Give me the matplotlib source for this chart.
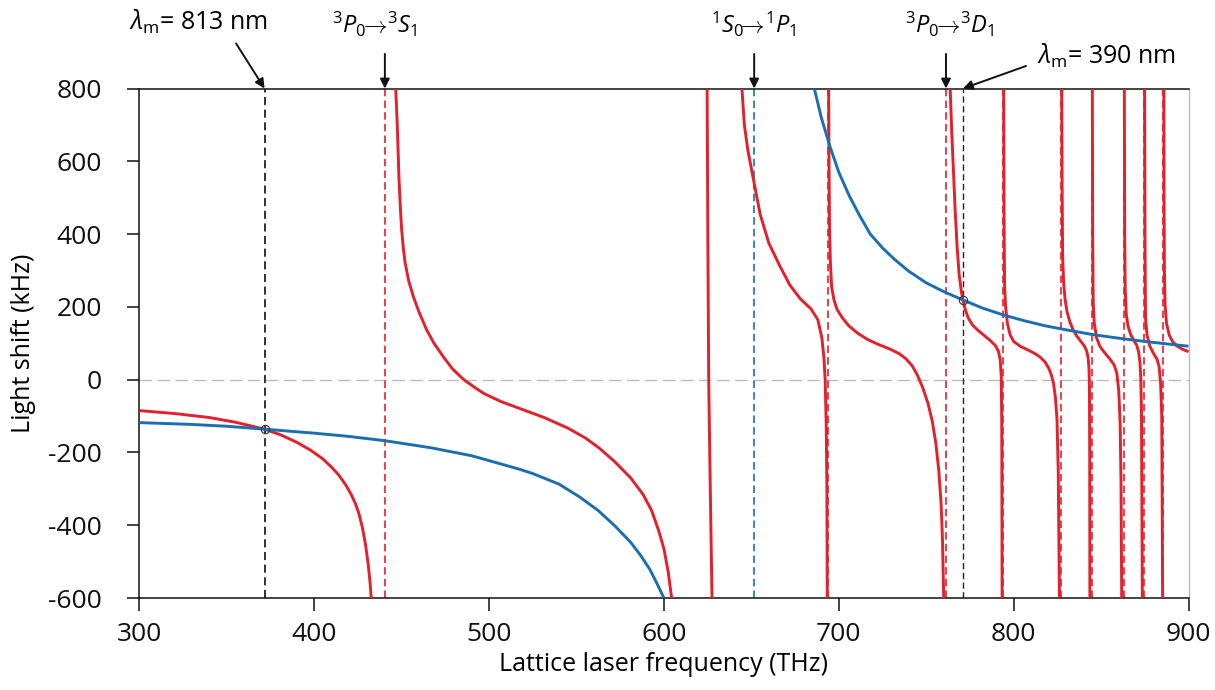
import numpy as np
import matplotlib
matplotlib.use("Agg")
import matplotlib.pyplot as plt

plt.rcParams['font.family'] = ['Open Sans', 'DejaVu Sans']
plt.rcParams['mathtext.fontset'] = 'custom'
plt.rcParams['mathtext.rm'] = 'Open Sans'
plt.rcParams['mathtext.it'] = 'Open Sans:italic'
plt.rcParams['axes.unicode_minus'] = False

# --- data (THz, kHz); None splits the branches ---
red_freq = [300, 320, 340, 355, 371.6, 381, 390, 398, 405, 410, 414, 418, 421, 423.5, 425.5, 427.5, 429.3, 430.8,
            431.9, 432.6, None,
            446.6, 447.5, 448.5, 449.3, 450, 451, 452, 454, 456.7, 460, 464.3, 468.5, 473.8, 479, 485.5, 492, 497,
            506.7, 518, 531.5, 545, 555, 563, 572, 581, 588, 593, 597, 600, 602.5, 604.4, None,
            624.7, 625.1, 625.6, 626.5, 627.5, None,
            644.6, 646, 648, 651.6, 655, 660, 666, 672, 678, 684, 688, 690.3, 691.5, 692.2, 692.8, 693.2, 693.4,
            None,
            694.2, 694.4, 694.7, 695.2, 695.9, 697.3, 699, 702, 705.7, 711, 716.6, 723, 729.8, 735, 738.5, 742,
            745, 748, 751, 753.5, 755.5, 757.2, 758.5, 759.3, 760, None,
            763.7, 764.6, 765.5, 766.5, 767.6, 768.8, 770, 771, 772.3, 774, 776.5, 779.5, 783, 786.5, 789.5,
            791.3, 792.3, 792.9, 793.2, 793.4, None,
            794.3, 794.5, 794.8, 795.4, 796.4, 798, 800, 804, 808, 812, 815.2, 818, 820, 821.5, 822.8, 823.9,
            824.8, 825.5, 826.2, None,
            827.5, 827.7, 828, 828.6, 829.4, 830.5, 832.2, 834, 836.1, 838.5, 840.5, 841.8, 842.6, 843.1, 843.35,
            843.5, 843.6, None,
            845.0, 845.2, 845.5, 846.1, 847.4, 849.3, 852, 855, 857.5, 859, 860.1, 860.9, 861.4, 861.8, None,
            863.3, 863.5, 863.8, 864.4, 865.4, 867, 869, 870.5, 871.5, 872.2, 872.7, 873.1, 873.6, None,
            874.9, 875.1, 875.4, 876.3, 877.8, 880, 882, 883.2, 884.1, 884.7, 885.2, None,
            885.9, 886.0, 886.2, 886.6, 887.4, 889, 891, 893.5, 896.8, 900]
red_shift = [-85, -93, -104, -117, -136, -152, -172, -194, -218, -241, -262, -289, -314, -340, -367, -405, -452, -505,
             -555, -600, None,
             800, 700, 549, 470, 412, 360, 321, 272, 228, 185, 137, 100, 63, 30, 0, -22, -38,
             -60, -80, -104, -133, -160, -188, -226, -270, -315, -360, -415, -465, -530, -600, None,
             800, 400, 0, -300, -600, None,
             800, 700, 630, 540, 455, 375, 315, 260, 222, 195, 165, 115, 60, 0, -120, -300, -600,
             None,
             800, 600, 420, 320, 255, 218, 193, 170, 148, 127, 110, 96, 83, 70, 57, 38,
             12, -22, -65, -115, -175, -250, -340, -440, -600, None,
             800, 680, 580, 470, 370, 290, 245, 219, 193, 170, 150, 136, 122, 108, 94,
             78, 55, 10, -120, -600, None,
             800, 450, 260, 200, 155, 123, 105, 91, 82, 72, 62, 48, 32, 14, -10, -50,
             -110, -250, -600, None,
             800, 550, 340, 265, 222, 187, 158, 137, 120, 105, 92, 78, 60, 30, -20,
             -200, -600, None,
             800, 400, 210, 155, 115, 92, 74, 57, 40, 18, -30, -120, -280, -600, None,
             800, 400, 250, 180, 147, 123, 106, 93, 75, 48, 5, -90, -600, None,
             800, 400, 170, 122, 93, 72, 56, 35, -15, -100, -600, None,
             800, 500, 300, 205, 155, 122, 104, 92, 83, 77]

blue_freq = [300, 330, 350, 371.6, 400, 420, 440.8, 466.6, 490, 510, 518, 525, 540, 552, 562.5, 572, 581, 587, 592,
             596, 600, None,
             686, 690, 695, 700, 706, 712, 718, 725, 732, 740, 750, 760, 771, 782, 794, 806, 818, 830, 845, 860,
             875, 890, 900]
blue_shift = [-118, -123, -128, -136, -147, -156, -168, -187, -209, -236, -247, -258, -287, -323, -360, -402, -447,
              -485, -522, -560, -600, None,
              800, 720, 640, 570, 505, 450, 400, 362, 330, 298, 266, 242, 219, 197, 178, 162, 148, 137, 124, 114,
              105, 97, 92]

red_lines = [440.4, 694.0, 761.3, 794.0, 826.8, 844.7, 862.9, 874.5, 885.6]
blue_lines = [651.6]
magic_lines = [371.6, 771.0]
magic_shift = [-136, 219]

RED = '#e3202c'
BLUE = '#1c6fae'

def to_arr(vals):
    return np.array([np.nan if v is None else v for v in vals], dtype=float)

fig = plt.figure(figsize=(12.15, 6.9), dpi=100)
ax = fig.add_axes([0.1147, 0.1333, 0.8635, 0.7384])

ax.axhline(0, color='#bdbdbd', lw=1.0, dashes=(9, 4), zorder=1)

for f in red_lines:
    ax.axvline(f, color=RED, lw=1.2, dashes=(4.5, 2.5), zorder=2)
for f in blue_lines:
    ax.axvline(f, color=BLUE, lw=1.2, dashes=(4.5, 2.5), zorder=2)
ax.axvline(magic_lines[0], color='#222222', lw=1.3, dashes=(4.5, 2.5), zorder=2)
ax.axvline(magic_lines[1], color='#222222', lw=1.0, dashes=(4.5, 2.5), zorder=2)

ax.plot(to_arr(red_freq), to_arr(red_shift), color=RED, lw=2.1, zorder=3,
        solid_joinstyle='round', solid_capstyle='butt')
ax.plot(to_arr(blue_freq), to_arr(blue_shift), color=BLUE, lw=2.1, zorder=4,
        solid_joinstyle='round', solid_capstyle='butt')

ax.plot(magic_lines, magic_shift, 'o', ms=6, mfc='none', mec='#333333', mew=0.8, zorder=5)

ax.set_xlim(300, 900)
ax.set_ylim(-600, 800)
ax.set_xticks(np.arange(300, 901, 100))
ax.set_yticks(np.arange(-600, 801, 200))
ax.tick_params(direction='out', length=9, width=1.1, labelsize=19, colors='#111111')
ax.tick_params(axis='x', pad=8)
ax.tick_params(axis='y', pad=18)

for s in ['left', 'bottom', 'top']:
    ax.spines[s].set_linewidth(1.1)
    ax.spines[s].set_color('#111111')
ax.spines['right'].set_color('#bbbbbb')
ax.spines['right'].set_linewidth(1.0)

ax.set_xlabel('Lattice laser frequency (THz)', fontsize=18, labelpad=4)
ax.set_ylabel('Light shift (kHz)', fontsize=18, labelpad=9)

# --- top annotations ---
arrow = dict(arrowstyle='-|>', color='#111111', lw=1.4, mutation_scale=14, shrinkA=0, shrinkB=0)

def label(text, x, y, size=17):
    ax.text(x, y, text, fontsize=size, ha='center', va='center', clip_on=False)

def pointer(x0, y0, x1, y1):
    ax.annotate('', xy=(x1, y1), xytext=(x0, y0), arrowprops=arrow, annotation_clip=False)

label(r'$\lambda_{\rm m}$= 813 nm', 334.0, 982, 18)
pointer(355.3, 924, magic_lines[0], 800)

label(r'$^3P_0\!\!\rightarrow\!^3S_1$', 434.5, 975)
pointer(red_lines[0], 895, red_lines[0], 800)

label(r'$^1S_0\!\!\rightarrow\!^1P_1$', 651.6, 975)
pointer(blue_lines[0], 895, blue_lines[0], 800)

label(r'$^3P_0\!\!\rightarrow\!^3D_1$', 763.6, 975)
pointer(red_lines[2], 895, red_lines[2], 800)

label(r'$\lambda_{\rm m}$= 390 nm', 853.4, 890, 18)
pointer(807.1, 862, magic_lines[1], 800)

fig.savefig('out.png', dpi=100)
